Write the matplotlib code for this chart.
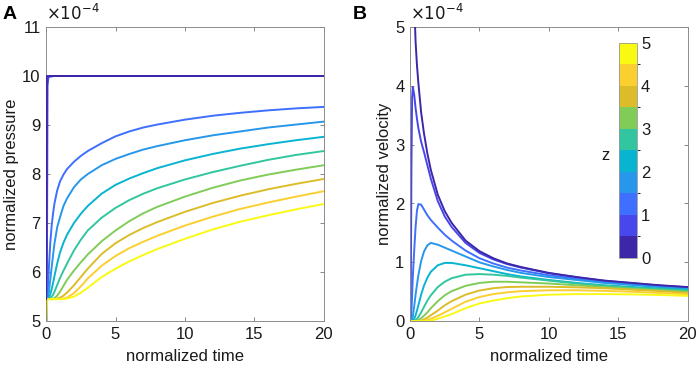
import numpy as np
import matplotlib
matplotlib.use('Agg')
from matplotlib import pyplot as plt
from matplotlib import rcParams
from matplotlib.colors import ListedColormap, BoundaryNorm
from matplotlib.colorbar import ColorbarBase

rcParams.update({'font.family': ['Liberation Sans', 'DejaVu Sans'], 'font.size': 12})

# ---- data (values in units of 1e-4) ----
t = [0, 0.05, 0.1, 0.15, 0.2, 0.3, 0.4, 0.5, 0.6, 0.8, 1, 1.25, 1.5, 2, 2.5,
     3, 4, 5, 6, 7, 8, 10, 12, 14, 16, 18, 20]
z_levels = [0, 0.5, 1, 1.5, 2, 2.5, 3, 3.5, 4, 4.5]

p_z00 = [5.45] + [10] * 26
p_z05 = [5, 5.45, 9.8, 9.95, 9.98, 9.99, 9.99] + [10] * 20
p_z10 = [5, 5.45, 5.55, 5.8, 6.1, 6.6, 6.95, 7.2, 7.4, 7.67, 7.85, 7.99, 8.1, 8.25,
         8.37, 8.47, 8.63, 8.77, 8.87, 8.95, 9.01, 9.11, 9.19, 9.25, 9.3, 9.34, 9.37]
p_z15 = [5, 5.45, 5.47, 5.52, 5.6, 5.85, 6.1, 6.35, 6.58, 6.92, 7.12, 7.35, 7.5,
         7.73, 7.89, 8.0, 8.18, 8.31, 8.41, 8.5, 8.57, 8.69, 8.79, 8.87, 8.95, 9.01, 9.07]
p_z20 = [5, 5.45, 5.45, 5.46, 5.48, 5.55, 5.65, 5.78, 5.92, 6.18, 6.4, 6.6, 6.76,
         7.0, 7.19, 7.35, 7.6, 7.78, 7.91, 8.02, 8.12, 8.28, 8.41, 8.52, 8.61, 8.69, 8.76]
p_z25 = [5, 5.45, 5.45, 5.45, 5.46, 5.47, 5.5, 5.54, 5.6, 5.74, 5.88, 6.03, 6.17,
         6.44, 6.66, 6.85, 7.11, 7.31, 7.47, 7.6, 7.71, 7.89, 8.04, 8.17, 8.29, 8.39, 8.47]
p_z30 = [5, 5.45, 5.45, 5.45, 5.45, 5.45, 5.45, 5.46, 5.47, 5.52, 5.6, 5.72, 5.84,
         6.03, 6.2, 6.36, 6.63, 6.85, 7.04, 7.2, 7.33, 7.54, 7.72, 7.87, 7.99, 8.09, 8.18]
p_z35 = [5, 5.45, 5.45, 5.45, 5.45, 5.45, 5.45, 5.45, 5.45, 5.46, 5.48, 5.52, 5.58,
         5.73, 5.9, 6.07, 6.37, 6.59, 6.76, 6.9, 7.02, 7.23, 7.41, 7.56, 7.69, 7.8, 7.9]
p_z40 = [5, 5.45, 5.45, 5.45, 5.45, 5.45, 5.45, 5.45, 5.45, 5.45, 5.45, 5.46, 5.48,
         5.57, 5.71, 5.87, 6.13, 6.33, 6.49, 6.62, 6.74, 6.95, 7.13, 7.29, 7.42, 7.54, 7.65]
p_z45 = [5, 5.45, 5.45, 5.45, 5.45, 5.45, 5.45, 5.45, 5.45, 5.45, 5.45, 5.45, 5.46,
         5.5, 5.58, 5.68, 5.9, 6.07, 6.22, 6.35, 6.47, 6.68, 6.87, 7.03, 7.16, 7.28, 7.39]

nan = np.nan
v_z00 = [nan, nan, 9.5, 7.7, 6.7, 5.45, 4.75, 4.35, 4.05, 3.55, 3.2, 2.85, 2.57,
         2.15, 1.87, 1.67, 1.37, 1.19, 1.07, 0.98, 0.92, 0.82, 0.75, 0.69, 0.65, 0.61, 0.58]
v_z05 = [0, 0.3, 2.6, 3.8, 3.98, 3.85, 3.62, 3.44, 3.28, 3.05, 2.88, 2.65, 2.42,
         2.04, 1.78, 1.6, 1.33, 1.16, 1.05, 0.97, 0.91, 0.815, 0.745, 0.685, 0.645, 0.605, 0.575]
v_z10 = [0, 0.02, 0.15, 0.45, 0.75, 1.2, 1.6, 1.88, 1.99, 1.98, 1.9, 1.8, 1.72,
         1.59, 1.47, 1.37, 1.2, 1.07, 0.98, 0.91, 0.86, 0.78, 0.72, 0.67, 0.63, 0.595, 0.565]
v_z15 = [0, 0, 0.01, 0.03, 0.08, 0.25, 0.45, 0.62, 0.78, 1.02, 1.18, 1.29, 1.33,
         1.3, 1.25, 1.2, 1.1, 1.0, 0.93, 0.87, 0.82, 0.75, 0.7, 0.65, 0.615, 0.58, 0.55]
v_z20 = [0, 0, 0, 0, 0.01, 0.04, 0.1, 0.18, 0.27, 0.45, 0.6, 0.74, 0.84,
         0.95, 0.99, 0.99, 0.95, 0.9, 0.85, 0.8, 0.76, 0.7, 0.65, 0.61, 0.58, 0.555, 0.535]
v_z25 = [0, 0, 0, 0, 0, 0.005, 0.02, 0.04, 0.07, 0.15, 0.24, 0.35, 0.44,
         0.58, 0.67, 0.73, 0.79, 0.8, 0.79, 0.77, 0.74, 0.69, 0.64, 0.6, 0.57, 0.545, 0.52]
v_z30 = [0, 0, 0, 0, 0, 0, 0, 0.01, 0.02, 0.05, 0.09, 0.15, 0.22,
         0.34, 0.44, 0.51, 0.6, 0.65, 0.67, 0.67, 0.66, 0.64, 0.61, 0.58, 0.55, 0.525, 0.5]
v_z35 = [0, 0, 0, 0, 0, 0, 0, 0, 0, 0.01, 0.03, 0.06, 0.1,
         0.18, 0.27, 0.34, 0.45, 0.52, 0.56, 0.58, 0.585, 0.585, 0.575, 0.56, 0.535, 0.51, 0.48]
v_z40 = [0, 0, 0, 0, 0, 0, 0, 0, 0, 0, 0.01, 0.02, 0.04,
         0.09, 0.15, 0.21, 0.33, 0.41, 0.46, 0.49, 0.51, 0.525, 0.525, 0.515, 0.5, 0.48, 0.455]
v_z45 = [0, 0, 0, 0, 0, 0, 0, 0, 0, 0, 0, 0, 0.01,
         0.04, 0.08, 0.12, 0.22, 0.3, 0.35, 0.39, 0.42, 0.45, 0.46, 0.46, 0.455, 0.445, 0.43]

pressure = [p_z00, p_z05, p_z10, p_z15, p_z20, p_z25, p_z30, p_z35, p_z40, p_z45]
velocity = [v_z00, v_z05, v_z10, v_z15, v_z20, v_z25, v_z30, v_z35, v_z40, v_z45]

# parula(10)
parula10 = ['#3e26a8', '#4747eb', '#3e6ffe', '#2797eb', '#08b4d0',
            '#31c69f', '#81cc59', '#dcbd29', '#fccf30', '#f9fa14']

fig = plt.figure(figsize=(6.99, 3.70), dpi=100)
axA = fig.add_axes([0.066, 0.132, 0.397, 0.795])
axB = fig.add_axes([0.5866, 0.132, 0.397, 0.795])

for ax in (axA, axB):
    for s in ax.spines.values():
        s.set_color('0.55')
        s.set_linewidth(0.7)
    ax.tick_params(direction='in', top=True, right=True, length=3, width=0.6,
                   color='0.45', labelcolor='0.1', labelsize=12, pad=4)
    ax.set_xlim(0, 20)
    ax.set_xticks([0, 5, 10, 15, 20])
    ax.set_xlabel("normalized time", fontsize=12, color='0.1', labelpad=5)

# z = 0 drawn on top, as in the original
for i, (p, c) in enumerate(zip(pressure, parula10)):
    axA.plot(t, p, color=c, lw=1.4, solid_joinstyle='round', zorder=5 if i == 0 else 2)
axA.set_ylim(5, 11)
axA.set_yticks(range(5, 12))
axA.set_ylabel("normalized pressure", fontsize=12, color='0.1', labelpad=2)

for i, (v, c) in enumerate(zip(velocity, parula10)):
    axB.plot(t, v, color=c, lw=1.4, solid_joinstyle='round', zorder=5 if i == 0 else 2)
axB.set_ylim(0, 5)
axB.set_yticks(range(0, 6))
axB.set_ylabel("normalized velocity", fontsize=12, color='0.1', labelpad=2)

for ax in (axA, axB):
    ax.text(0.0, 1.012, r'$\times10^{-4}$', transform=ax.transAxes,
            ha='left', va='bottom', fontsize=12, color='0.1')

fig.text(0.004, 0.985, "A", fontsize=14, fontweight='bold', va='top', ha='left')
fig.text(0.505, 0.985, "B", fontsize=14, fontweight='bold', va='top', ha='left')

# colour bar inside panel B
cax = fig.add_axes([0.886, 0.303, 0.025, 0.581])
bounds = np.arange(0, 5.5, 0.5)
cb = ColorbarBase(cax, cmap=ListedColormap(parula10),
                  norm=BoundaryNorm(bounds, 10), ticks=[0, 1, 2, 3, 4, 5])
cb.outline.set_edgecolor('0.6')
cb.outline.set_linewidth(0.6)
cax.tick_params(direction='in', length=0, labelsize=12, labelcolor='0.1', pad=3)
cax.set_yticklabels(['0', '1', '2', '3', '4', '5'])
fig.text(0.866, 0.58, "z", fontsize=12, color='0.1', ha='center', va='center')

plt.savefig("out.png", dpi=100)
